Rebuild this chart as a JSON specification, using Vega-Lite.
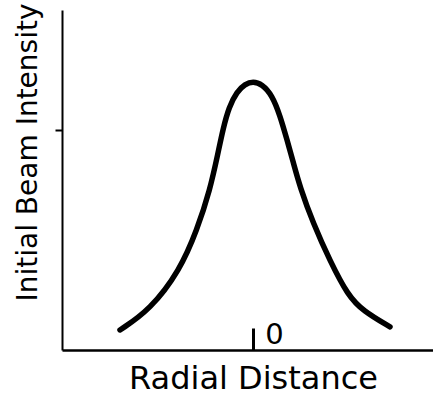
{
  "$schema": "https://vega.github.io/schema/vega-lite/v6.json",
  "autosize": "none",
  "width": 371,
  "height": 340,
  "padding": {"left": 62, "top": 10, "right": 0, "bottom": 48},
  "background": "white",
  "config": {"view": {"stroke": null}, "font": "DejaVu Sans"},
  "data": {"values": [
    {"r": -6.65, "i": 0.059},
    {"r": -5.15, "i": 0.118},
    {"r": -3.65, "i": 0.235},
    {"r": -2.8, "i": 0.353},
    {"r": -2.15, "i": 0.471},
    {"r": -1.75, "i": 0.579},
    {"r": -1.5, "i": 0.65},
    {"r": -1.2, "i": 0.715},
    {"r": -0.8, "i": 0.76},
    {"r": -0.4, "i": 0.782},
    {"r": 0.0, "i": 0.79},
    {"r": 0.45, "i": 0.782},
    {"r": 0.95, "i": 0.75},
    {"r": 1.35, "i": 0.69},
    {"r": 1.7, "i": 0.618},
    {"r": 2.0, "i": 0.555},
    {"r": 2.35, "i": 0.479},
    {"r": 3.0, "i": 0.374},
    {"r": 3.85, "i": 0.262},
    {"r": 4.75, "i": 0.16},
    {"r": 5.5, "i": 0.115},
    {"r": 6.85, "i": 0.068}
  ]},
  "mark": {"type": "line", "color": "black", "strokeWidth": 5.5, "strokeCap": "round", "strokeJoin": "round", "interpolate": "basis"},
  "encoding": {
    "x": {
      "field": "r", "type": "quantitative",
      "scale": {"domain": [-9.55, 9.0], "nice": false, "zero": false},
      "axis": {
        "title": "Radial Distance",
        "titleFont": "DejaVu Sans", "titleFontSize": 32, "titleFontWeight": "normal", "titleColor": "black",
        "titleAnchor": "start", "titleAlign": "center", "titleX": 191, "titleY": 38, "titleBaseline": "alphabetic",
        "values": [0], "grid": false,
        "domainColor": "black", "domainWidth": 2.5,
        "tickColor": "black", "tickWidth": 3, "tickSize": -22,
        "labelFont": "DejaVu Sans", "labelFontSize": 29, "labelColor": "black",
        "labelOffset": 21, "labelPadding": 15, "labelBaseline": "alphabetic"
      }
    },
    "y": {
      "field": "i", "type": "quantitative",
      "scale": {"domain": [0, 1], "nice": false, "zero": false},
      "axis": {
        "title": "Initial Beam Intensity",
        "titleFont": "DejaVu Sans", "titleFontSize": 28, "titleFontWeight": "normal", "titleColor": "black",
        "titleAngle": -90, "titleAlign": "center", "titleBaseline": "alphabetic",
        "titleX": -26, "titleY": 142, "titleAnchor": "start",
        "values": [0.647], "labels": false, "grid": false,
        "domainColor": "black", "domainWidth": 2,
        "tickColor": "black", "tickWidth": 2, "tickSize": 7
      }
    }
  }
}
